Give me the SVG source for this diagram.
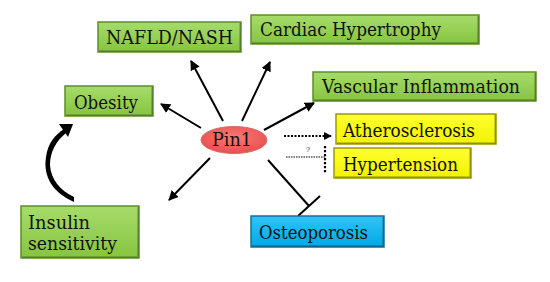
<svg xmlns="http://www.w3.org/2000/svg" width="550" height="282" viewBox="0 0 550 282">
<defs>
<linearGradient id="gGreen" x1="0" y1="0" x2="0" y2="1">
<stop offset="0" stop-color="#a6dc6a"/><stop offset="1" stop-color="#86c440"/>
</linearGradient>
<linearGradient id="gYellow" x1="0" y1="0" x2="0" y2="1">
<stop offset="0" stop-color="#ffff30"/><stop offset="1" stop-color="#f2f200"/>
</linearGradient>
<linearGradient id="gBlue" x1="0" y1="0" x2="0" y2="1">
<stop offset="0" stop-color="#30c4f6"/><stop offset="1" stop-color="#00a8e6"/>
</linearGradient>
<radialGradient id="gRed" cx="0.5" cy="0.4" r="0.6">
<stop offset="0" stop-color="#f87a78"/><stop offset="1" stop-color="#e84f4c"/>
</radialGradient>
<marker id="ah" viewBox="0 0 10 10" refX="9" refY="5" markerWidth="5" markerHeight="5" orient="auto" markerUnits="strokeWidth">
<path d="M0,0 L10,5 L0,10 z" fill="#000"/>
</marker>
<marker id="ahs" viewBox="0 0 10 10" refX="9" refY="5" markerWidth="4" markerHeight="4" orient="auto" markerUnits="strokeWidth">
<path d="M0,0 L10,5 L0,10 z" fill="#000"/>
</marker>
</defs>
<style>
.lbl{font-family:"DejaVu Serif","Liberation Serif",serif;font-size:18px;fill:#111}
.green{fill:url(#gGreen);stroke:#5e8f2a;stroke-width:1.5}
.yellow{fill:url(#gYellow);stroke:#9a9a00;stroke-width:1.5}
.blue{fill:url(#gBlue);stroke:#1a6f95;stroke-width:1.5}
.sh{fill:none;stroke:#000;stroke-opacity:0.25;stroke-width:1.5}
.edge{stroke:#000;stroke-width:2;fill:none}
.dot{stroke:#000;stroke-width:2;fill:none;stroke-dasharray:2,1.5}
</style>
<rect width="550" height="282" fill="#fff"/>
<g id="connectors">
<line class="edge" x1="223" y1="121" x2="191" y2="61" marker-end="url(#ah)"/>
<line class="edge" x1="242" y1="121" x2="270" y2="62" marker-end="url(#ah)"/>
<line class="edge" x1="201" y1="128" x2="161" y2="104" marker-end="url(#ah)"/>
<line class="edge" x1="264" y1="130" x2="314" y2="103" marker-end="url(#ah)"/>
<line class="edge" x1="210" y1="158" x2="169" y2="200" marker-end="url(#ah)"/>
<line class="edge" x1="268" y1="160" x2="309" y2="206"/>
<line class="edge" x1="298" y1="216" x2="320" y2="196"/>
<line class="dot" x1="284" y1="136" x2="331" y2="136" marker-end="url(#ahs)"/>
<line x1="286" y1="157" x2="325" y2="157" stroke="#000" stroke-width="1.2" stroke-dasharray="1.5,1"/>
<line x1="325" y1="146" x2="325" y2="173" stroke="#000" stroke-width="2.2" stroke-dasharray="2.2,1.8"/>
<text x="308" y="152" font-family="Liberation Sans,Arial,sans-serif" font-size="8" fill="#555" text-anchor="middle">?</text>
<path d="M74,202 C52,192 43,176 46,157 C48,143 55,135 64,129 L66,133 C56,141 50,152 50,165 C51,180 60,190 74,197 Z" fill="#000"/>
<path d="M73,124 L59,124 L68,137 Z" fill="#000"/>
</g>
<g id="pin1">
<ellipse cx="234" cy="140" rx="33" ry="13.5" fill="url(#gRed)" stroke="#d86a6a" stroke-width="1"/>
<text class="lbl" x="232" y="146" text-anchor="middle" textLength="40" lengthAdjust="spacingAndGlyphs">Pin1</text>
</g>
<g id="nafld">
<rect class="green" x="98" y="22" width="143" height="30"/>
<polyline class="sh" points="99,51 240,51 240,23"/>
<text class="lbl" x="106" y="44" textLength="127" lengthAdjust="spacingAndGlyphs">NAFLD/NASH</text>
</g>
<g id="cardiac">
<rect class="green" x="251" y="15" width="228" height="29"/>
<polyline class="sh" points="252,43 478,43 478,16"/>
<text class="lbl" x="260" y="36" textLength="181" lengthAdjust="spacingAndGlyphs">Cardiac Hypertrophy</text>
</g>
<g id="vascular">
<rect class="green" x="313" y="72" width="223" height="29"/>
<polyline class="sh" points="314,100 535,100 535,73"/>
<text class="lbl" x="322" y="93" textLength="198" lengthAdjust="spacingAndGlyphs">Vascular Inflammation</text>
</g>
<g id="obesity">
<rect class="green" x="65" y="86" width="88" height="30"/>
<polyline class="sh" points="66,115 152,115 152,87"/>
<text class="lbl" x="74" y="109" textLength="64" lengthAdjust="spacingAndGlyphs">Obesity</text>
</g>
<g id="athero">
<rect class="yellow" x="336" y="114" width="160" height="30"/>
<polyline class="sh" points="337,143 495,143 495,115"/>
<text class="lbl" x="343" y="137" textLength="132" lengthAdjust="spacingAndGlyphs">Atherosclerosis</text>
</g>
<g id="hypertension">
<rect class="yellow" x="334" y="148" width="137" height="30"/>
<polyline class="sh" points="335,177 470,177 470,149"/>
<text class="lbl" x="343" y="171" textLength="115" lengthAdjust="spacingAndGlyphs">Hypertension</text>
</g>
<g id="insulin">
<rect class="green" x="21" y="206" width="118" height="52"/>
<polyline class="sh" points="22,257 138,257 138,207"/>
<text class="lbl" x="28" y="229" textLength="62" lengthAdjust="spacingAndGlyphs">Insulin</text>
<text class="lbl" x="28" y="250" textLength="89" lengthAdjust="spacingAndGlyphs">sensitivity</text>
</g>
<g id="osteoporosis">
<rect class="blue" x="251" y="216" width="133" height="31"/>
<polyline class="sh" points="252,246 383,246 383,217"/>
<text class="lbl" x="259" y="239" textLength="109" lengthAdjust="spacingAndGlyphs">Osteoporosis</text>
</g>
</svg>
